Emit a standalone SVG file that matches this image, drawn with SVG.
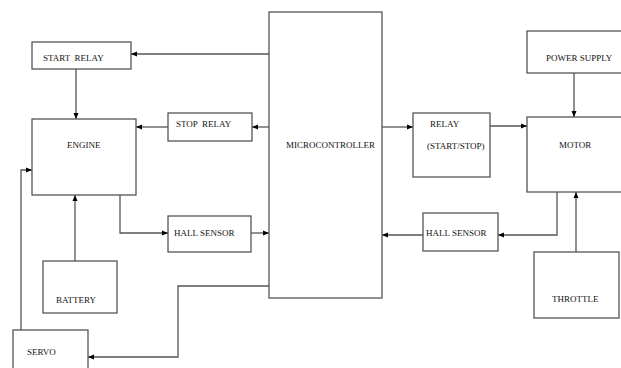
<svg xmlns="http://www.w3.org/2000/svg" width="621" height="368" viewBox="0 0 621 368">
<style>
.box{fill:#fff;stroke:#555;stroke-width:1.3}
.wire{fill:none;stroke:#555;stroke-width:1.3}
text{font-family:"Liberation Serif","Times New Roman",serif;font-size:9px;fill:#111;white-space:pre}
</style>
<defs>
<marker id="ah" markerUnits="userSpaceOnUse" markerWidth="6" markerHeight="6" viewBox="0 0 6 6" refX="6" refY="3" orient="auto">
<path d="M0,0.5 L6,3 L0,5.5 Z" fill="#000"/>
</marker>
</defs>
<rect width="621" height="368" fill="#fff"/>
<g id="connectors">
<path class="wire" d="M269,54 H131" marker-end="url(#ah)"/>
<path class="wire" d="M76,69 V119" marker-end="url(#ah)"/>
<path class="wire" d="M269,127 H252" marker-end="url(#ah)"/>
<path class="wire" d="M168,127 H136" marker-end="url(#ah)"/>
<path class="wire" d="M21,330 V170 H32" marker-end="url(#ah)"/>
<path class="wire" d="M120,195 V233 H168" marker-end="url(#ah)"/>
<path class="wire" d="M251,233 H269" marker-end="url(#ah)"/>
<path class="wire" d="M75,261 V195" marker-end="url(#ah)"/>
<path class="wire" d="M269,286 H178 V357 H88" marker-end="url(#ah)"/>
<path class="wire" d="M382,127 H413" marker-end="url(#ah)"/>
<path class="wire" d="M490,126 H527" marker-end="url(#ah)"/>
<path class="wire" d="M574,73 V117" marker-end="url(#ah)"/>
<path class="wire" d="M557,192 V235 H498" marker-end="url(#ah)"/>
<path class="wire" d="M423,235 H382" marker-end="url(#ah)"/>
<path class="wire" d="M576,252 V192" marker-end="url(#ah)"/>
</g>
<g id="microcontroller"><rect class="box" x="269" y="12" width="113" height="286"/><text x="286" y="148">MICROCONTROLLER</text></g>
<g id="start-relay"><rect class="box" x="32" y="42" width="99" height="27"/><text x="43" y="61" xml:space="preserve">START  RELAY</text></g>
<g id="engine"><rect class="box" x="32" y="119" width="104" height="76"/><text x="67" y="148">ENGINE</text></g>
<g id="stop-relay"><rect class="box" x="168" y="113" width="84" height="28"/><text x="176" y="127" xml:space="preserve">STOP  RELAY</text></g>
<g id="hall-sensor-1"><rect class="box" x="168" y="216" width="83" height="36"/><text x="174" y="236">HALL SENSOR</text></g>
<g id="battery"><rect class="box" x="43" y="261" width="74" height="52"/><text x="56" y="303">BATTERY</text></g>
<g id="servo"><rect class="box" x="13" y="330" width="75" height="50"/><text x="27" y="355">SERVO</text></g>
<g id="relay"><rect class="box" x="413" y="113" width="77" height="64"/><text x="430" y="127">RELAY</text><text x="427" y="149">(START/STOP)</text></g>
<g id="power-supply"><rect class="box" x="527" y="31" width="100" height="42"/><text x="546" y="61">POWER SUPPLY</text></g>
<g id="motor"><rect class="box" x="527" y="117" width="100" height="75"/><text x="559" y="148">MOTOR</text></g>
<g id="hall-sensor-2"><rect class="box" x="423" y="213" width="75" height="38"/><text x="426" y="236">HALL SENSOR</text></g>
<g id="throttle"><rect class="box" x="534" y="252" width="85" height="66"/><text x="552" y="302">THROTTLE</text></g>
</svg>
